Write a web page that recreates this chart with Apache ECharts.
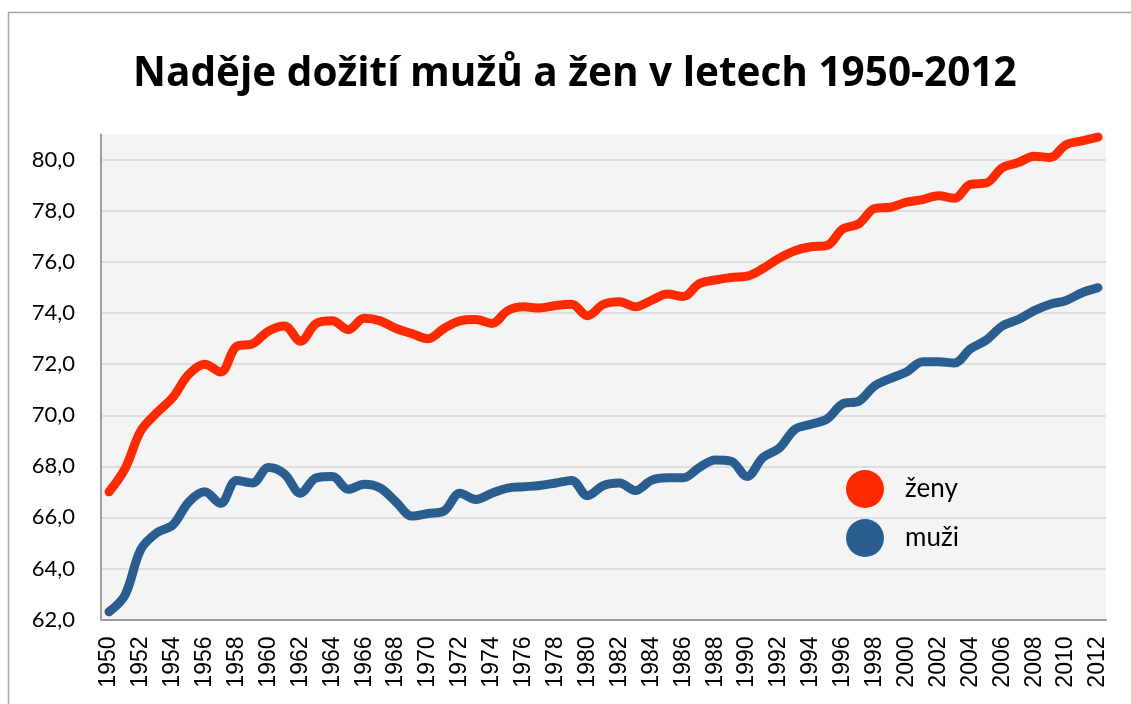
<!DOCTYPE html>
<html>
<head>
<meta charset="utf-8">
<title>Naděje dožití mužů a žen v letech 1950-2012</title>
<script src="https://cdn.jsdelivr.net/npm/echarts@6/dist/echarts.min.js"></script>
<style>
  html, body { margin: 0; padding: 0; background: #fff; }
  #chart { width: 1131px; height: 704px; }
</style>
</head>
<body>
<div id="chart"></div>
<script>
// roky 1950-2012
var years = [];
for (var y = 1950; y <= 2012; y++) years.push(String(y));

// naděje dožití - ženy
var zeny = [
  67.0, 67.9, 69.4, 70.1, 70.7, 71.6, 72.0, 71.7, 72.7, 72.8,
  73.3, 73.5, 72.9, 73.6, 73.7, 73.35, 73.8, 73.7, 73.4, 73.2,
  73.0, 73.4, 73.7, 73.75, 73.6, 74.1, 74.25, 74.2, 74.3, 74.35,
  73.9, 74.35, 74.45, 74.25, 74.5, 74.75, 74.65, 75.15, 75.3, 75.4,
  75.45, 75.75, 76.15, 76.45, 76.6, 76.65, 77.3, 77.5, 78.1, 78.15,
  78.35, 78.45, 78.6, 78.5, 79.05, 79.1, 79.7, 79.9, 80.15, 80.1,
  80.6, 80.75, 80.9
];

// naděje dožití - muži
var muzi = [
  62.3, 62.95, 64.75, 65.4, 65.7, 66.6, 67.0, 66.55, 67.45, 67.35,
  67.95, 67.7, 66.95, 67.55, 67.6, 67.1, 67.3, 67.15, 66.6, 66.05,
  66.15, 66.25, 66.95, 66.7, 66.95, 67.15, 67.2, 67.25, 67.35, 67.45,
  66.85, 67.25, 67.35, 67.05, 67.45, 67.55, 67.55, 67.95, 68.25, 68.2,
  67.6, 68.35, 68.7, 69.45, 69.65, 69.85, 70.45, 70.55, 71.15, 71.45,
  71.7, 72.1, 72.1, 72.05, 72.6, 72.95, 73.5, 73.75, 74.1, 74.35,
  74.5, 74.8, 75.0
];

var seriesNames = ['ženy', 'muži'];
var colors = ['#FF2A00', '#2A5E91'];

var chart = echarts.init(document.getElementById('chart'));

// mřížka - poslední čára (max 81) se nekreslí
var gridColors = [];
for (var i = 0; i < 10; i++) gridColors.push('#dedede');
gridColors.push('rgba(0,0,0,0)');

var option = {
  backgroundColor: '#fff',
  color: colors,
  title: {
    text: 'Naděje dožití mužů a žen v letech 1950-2012',
    left: 133,
    top: 54,
    padding: 0,
    textStyle: {
      fontFamily: 'Open Sans',
      fontWeight: 'bold',
      fontSize: 40.5,
      color: '#000'
    }
  },
  graphic: [
    {
      // rámeček grafu
      type: 'rect',
      shape: { x: 8.5, y: 12.5, width: 1200, height: 800 },
      style: { fill: 'none', stroke: '#a6a6a6', lineWidth: 1.5 },
      silent: true
    }
  ],
  legend: {
    data: seriesNames,
    orient: 'vertical',
    left: 841,
    top: 465,
    icon: 'circle',
    itemWidth: 38,
    itemHeight: 38,
    itemGap: 11,
    textStyle: {
      fontFamily: 'Lato',
      fontSize: 26,
      color: '#000',
      padding: [0, 0, 0, 16]
    }
  },
  grid: {
    left: 101,
    right: 25,
    top: 134.5,
    bottom: 84.5,
    show: true,
    backgroundColor: '#f4f4f4',
    borderWidth: 0
  },
  xAxis: {
    type: 'category',
    data: years,
    boundaryGap: true,
    axisTick: { show: false },
    axisLine: { show: true, lineStyle: { color: '#a0a0a0', width: 2 } },
    axisLabel: {
      interval: 1,
      rotate: 90,
      margin: 17,
      fontFamily: 'Liberation Sans',
      fontSize: 23,
      color: '#000'
    }
  },
  yAxis: {
    type: 'value',
    min: 62,
    max: 81,
    interval: 2,
    axisTick: { show: false },
    axisLine: { show: true, lineStyle: { color: '#a0a0a0', width: 2 } },
    splitLine: { show: true, lineStyle: { color: gridColors, width: 2 } },
    axisLabel: {
      margin: 26,
      showMaxLabel: false,
      fontFamily: 'Lato',
      fontSize: 22,
      color: '#000',
      formatter: function (v) {
        return v.toFixed(1).replace('.', ',');
      }
    }
  },
  series: [
    {
      name: seriesNames[0],
      type: 'line',
      data: zeny,
      smooth: 0.35,
      symbol: 'none',
      lineStyle: { width: 9, cap: 'round', join: 'round' }
    },
    {
      name: seriesNames[1],
      type: 'line',
      data: muzi,
      smooth: 0.35,
      symbol: 'none',
      lineStyle: { width: 9, cap: 'round', join: 'round' }
    }
  ]
};

chart.setOption(option);
</script>
</body>
</html>
